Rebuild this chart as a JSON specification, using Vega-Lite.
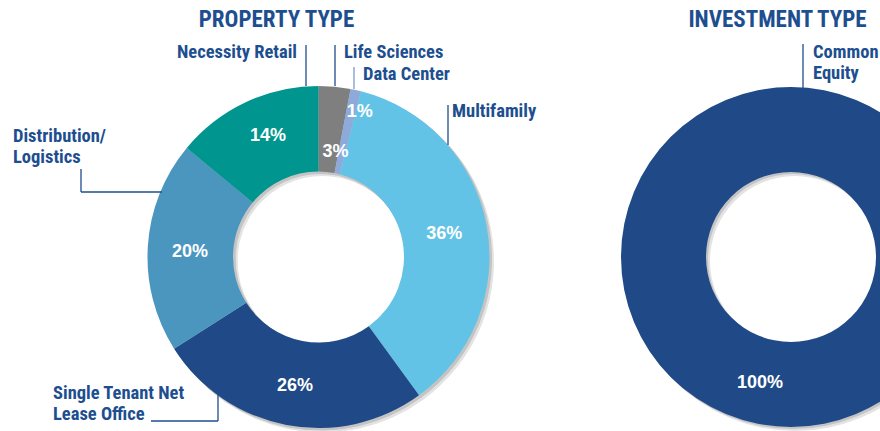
{
  "$schema": "https://vega.github.io/schema/vega-lite/v6.json",
  "width": 880,
  "height": 431,
  "autosize": "none",
  "padding": 0,
  "background": "white",
  "config": {"view": {"stroke": null}},
  "datasets": {
    "slices": [
      {"chart": "PROPERTY TYPE", "category": "Life Sciences", "value": 3, "rank": 1},
      {"chart": "PROPERTY TYPE", "category": "Data Center", "value": 1, "rank": 2},
      {"chart": "PROPERTY TYPE", "category": "Multifamily", "value": 36, "rank": 3},
      {"chart": "PROPERTY TYPE", "category": "Single Tenant Net Lease Office", "value": 26, "rank": 4},
      {"chart": "PROPERTY TYPE", "category": "Distribution/Logistics", "value": 20, "rank": 5},
      {"chart": "PROPERTY TYPE", "category": "Necessity Retail", "value": 14, "rank": 6},
      {"chart": "INVESTMENT TYPE", "category": "Common Equity", "value": 100, "rank": 1}
    ],
    "titles": [
      {"text": "PROPERTY TYPE", "x": 276.5, "y": 27},
      {"text": "INVESTMENT TYPE", "x": 777.5, "y": 26.5}
    ],
    "pct": [
      {"text": "3%", "x": 335.5, "y": 156.5},
      {"text": "1%", "x": 359.7, "y": 116.7},
      {"text": "36%", "x": 444.3, "y": 239.3},
      {"text": "26%", "x": 295, "y": 390.7},
      {"text": "20%", "x": 190, "y": 257.3},
      {"text": "14%", "x": 268, "y": 141},
      {"text": "100%", "x": 760, "y": 387.7}
    ],
    "labels": [
      {"text": "Necessity Retail", "x": 297, "y": 58, "side": "left"},
      {"text": "Life Sciences", "x": 344, "y": 58, "side": "right"},
      {"text": "Data Center", "x": 363, "y": 80, "side": "right"},
      {"text": "Multifamily", "x": 452, "y": 116.5, "side": "right"},
      {"text": "Distribution/", "x": 13, "y": 142, "side": "right"},
      {"text": "Logistics", "x": 13, "y": 163, "side": "right"},
      {"text": "Single Tenant Net", "x": 53, "y": 399.3, "side": "right"},
      {"text": "Lease Office", "x": 53, "y": 420, "side": "right"},
      {"text": "Common", "x": 813, "y": 57.5, "side": "right"},
      {"text": "Equity", "x": 813, "y": 78.5, "side": "right"}
    ],
    "leaders": [
      {"label": "Necessity Retail", "x": 306, "y": 45, "x2": 306, "y2": 86},
      {"label": "Life Sciences", "x": 335, "y": 45, "x2": 335, "y2": 86},
      {"label": "Data Center", "x": 354, "y": 67, "x2": 354, "y2": 89},
      {"label": "Multifamily", "x": 448, "y": 105, "x2": 448, "y2": 145},
      {"label": "Distribution/Logistics", "x": 81, "y": 169, "x2": 81, "y2": 192},
      {"label": "Distribution/Logistics", "x": 81, "y": 192, "x2": 162, "y2": 192},
      {"label": "Single Tenant Net Lease Office", "x": 151, "y": 421, "x2": 218, "y2": 421},
      {"label": "Single Tenant Net Lease Office", "x": 218, "y": 421, "x2": 218, "y2": 395},
      {"label": "Common Equity", "x": 803, "y": 44, "x2": 803, "y2": 107}
    ]
  },
  "layer": [
    {
      "data": {"name": "slices"},
      "transform": [{"filter": "datum.chart === 'PROPERTY TYPE'"}],
      "mark": {"type": "arc", "innerRadius": 85.5, "outerRadius": 171, "color": "#e3e3e3", "stroke": "#e3e3e3", "strokeWidth": 1},
      "encoding": {
        "x": {"datum": 322.5, "type": "quantitative", "scale": {"domain": [0, 880], "nice": false, "zero": false}, "axis": null},
        "y": {"datum": 261, "type": "quantitative", "scale": {"domain": [0, 431], "nice": false, "zero": false, "reverse": true}, "axis": null},
        "theta": {"field": "value", "type": "quantitative", "stack": true},
        "order": {"field": "rank", "type": "quantitative"}
      }
    },
    {
      "data": {"name": "slices"},
      "transform": [{"filter": "datum.chart === 'PROPERTY TYPE'"}],
      "mark": {"type": "arc", "innerRadius": 85.5, "outerRadius": 171, "color": "#c4c4c4", "stroke": "#c4c4c4", "strokeWidth": 1},
      "encoding": {
        "x": {"datum": 320.5, "type": "quantitative", "scale": {"domain": [0, 880], "nice": false, "zero": false}, "axis": null},
        "y": {"datum": 259, "type": "quantitative", "scale": {"domain": [0, 431], "nice": false, "zero": false, "reverse": true}, "axis": null},
        "theta": {"field": "value", "type": "quantitative", "stack": true},
        "order": {"field": "rank", "type": "quantitative"}
      }
    },
    {
      "data": {"name": "slices"},
      "transform": [{"filter": "datum.chart === 'INVESTMENT TYPE'"}],
      "mark": {"type": "arc", "innerRadius": 85, "outerRadius": 170, "color": "#e3e3e3"},
      "encoding": {
        "x": {"datum": 795, "type": "quantitative", "scale": {"domain": [0, 880], "nice": false, "zero": false}, "axis": null},
        "y": {"datum": 261, "type": "quantitative", "scale": {"domain": [0, 431], "nice": false, "zero": false, "reverse": true}, "axis": null},
        "theta": {"field": "value", "type": "quantitative", "stack": true}
      }
    },
    {
      "data": {"name": "slices"},
      "transform": [{"filter": "datum.chart === 'INVESTMENT TYPE'"}],
      "mark": {"type": "arc", "innerRadius": 85, "outerRadius": 170, "color": "#c4c4c4"},
      "encoding": {
        "x": {"datum": 793, "type": "quantitative", "scale": {"domain": [0, 880], "nice": false, "zero": false}, "axis": null},
        "y": {"datum": 259, "type": "quantitative", "scale": {"domain": [0, 431], "nice": false, "zero": false, "reverse": true}, "axis": null},
        "theta": {"field": "value", "type": "quantitative", "stack": true}
      }
    },
    {
      "data": {"name": "slices"},
      "transform": [{"filter": "datum.chart === 'PROPERTY TYPE'"}],
      "mark": {"type": "arc", "innerRadius": 85.5, "outerRadius": 171},
      "encoding": {
        "x": {"datum": 318.5, "type": "quantitative", "scale": {"domain": [0, 880], "nice": false, "zero": false}, "axis": null},
        "y": {"datum": 257, "type": "quantitative", "scale": {"domain": [0, 431], "nice": false, "zero": false, "reverse": true}, "axis": null},
        "theta": {"field": "value", "type": "quantitative", "stack": true},
        "order": {"field": "rank", "type": "quantitative"},
        "color": {
          "field": "category",
          "type": "nominal",
          "legend": null,
          "scale": {
            "domain": ["Life Sciences", "Data Center", "Multifamily", "Single Tenant Net Lease Office", "Distribution/Logistics", "Necessity Retail", "Common Equity"],
            "range": ["#7f7f7f", "#8eaadb", "#62c3e7", "#1f4a87", "#4b96bf", "#00958f", "#1f4a87"]
          }
        }
      }
    },
    {
      "data": {"name": "slices"},
      "transform": [{"filter": "datum.chart === 'INVESTMENT TYPE'"}],
      "mark": {"type": "arc", "innerRadius": 85, "outerRadius": 170},
      "encoding": {
        "x": {"datum": 791, "type": "quantitative", "scale": {"domain": [0, 880], "nice": false, "zero": false}, "axis": null},
        "y": {"datum": 257, "type": "quantitative", "scale": {"domain": [0, 431], "nice": false, "zero": false, "reverse": true}, "axis": null},
        "theta": {"field": "value", "type": "quantitative", "stack": true},
        "color": {"field": "category", "type": "nominal", "legend": null}
      }
    },
    {
      "data": {"name": "pct"},
      "mark": {"type": "text", "font": "Liberation Sans", "fontWeight": "bold", "fontSize": 18, "color": "white", "align": "center", "baseline": "alphabetic"},
      "encoding": {
        "x": {"field": "x", "type": "quantitative", "scale": {"domain": [0, 880], "nice": false, "zero": false}, "axis": null},
        "y": {"field": "y", "type": "quantitative", "scale": {"domain": [0, 431], "nice": false, "zero": false, "reverse": true}, "axis": null},
        "text": {"field": "text"}
      }
    },
    {
      "data": {"name": "leaders"},
      "mark": {"type": "rule", "strokeWidth": 1.3},
      "encoding": {
        "x": {"field": "x", "type": "quantitative", "scale": {"domain": [0, 880], "nice": false, "zero": false}, "axis": null},
        "y": {"field": "y", "type": "quantitative", "scale": {"domain": [0, 431], "nice": false, "zero": false, "reverse": true}, "axis": null},
        "x2": {"field": "x2"},
        "y2": {"field": "y2"},
        "color": {"condition": {"test": "datum.label === 'Data Center'", "value": "#7d9cc9"}, "value": "#1d4e8f"}
      }
    },
    {
      "data": {"name": "labels"},
      "transform": [{"filter": "datum.side === 'right'"}],
      "mark": {"type": "text", "font": "Liberation Sans Narrow, Roboto Condensed, DejaVu Sans Condensed, sans-serif", "fontWeight": "bold", "fontSize": 18.5, "color": "#1d4e8f", "align": "left", "baseline": "alphabetic"},
      "encoding": {
        "x": {"field": "x", "type": "quantitative", "scale": {"domain": [0, 880], "nice": false, "zero": false}, "axis": null},
        "y": {"field": "y", "type": "quantitative", "scale": {"domain": [0, 431], "nice": false, "zero": false, "reverse": true}, "axis": null},
        "text": {"field": "text"}
      }
    },
    {
      "data": {"name": "labels"},
      "transform": [{"filter": "datum.side === 'left'"}],
      "mark": {"type": "text", "font": "Liberation Sans Narrow, Roboto Condensed, DejaVu Sans Condensed, sans-serif", "fontWeight": "bold", "fontSize": 18.5, "color": "#1d4e8f", "align": "right", "baseline": "alphabetic"},
      "encoding": {
        "x": {"field": "x", "type": "quantitative", "scale": {"domain": [0, 880], "nice": false, "zero": false}, "axis": null},
        "y": {"field": "y", "type": "quantitative", "scale": {"domain": [0, 431], "nice": false, "zero": false, "reverse": true}, "axis": null},
        "text": {"field": "text"}
      }
    },
    {
      "data": {"name": "titles"},
      "mark": {"type": "text", "font": "Liberation Sans Narrow, Roboto Condensed, DejaVu Sans Condensed, sans-serif", "fontWeight": "bold", "fontSize": 23, "color": "#1d4e8f", "align": "center", "baseline": "alphabetic"},
      "encoding": {
        "x": {"field": "x", "type": "quantitative", "scale": {"domain": [0, 880], "nice": false, "zero": false}, "axis": null},
        "y": {"field": "y", "type": "quantitative", "scale": {"domain": [0, 431], "nice": false, "zero": false, "reverse": true}, "axis": null},
        "text": {"field": "text"}
      }
    }
  ]
}
